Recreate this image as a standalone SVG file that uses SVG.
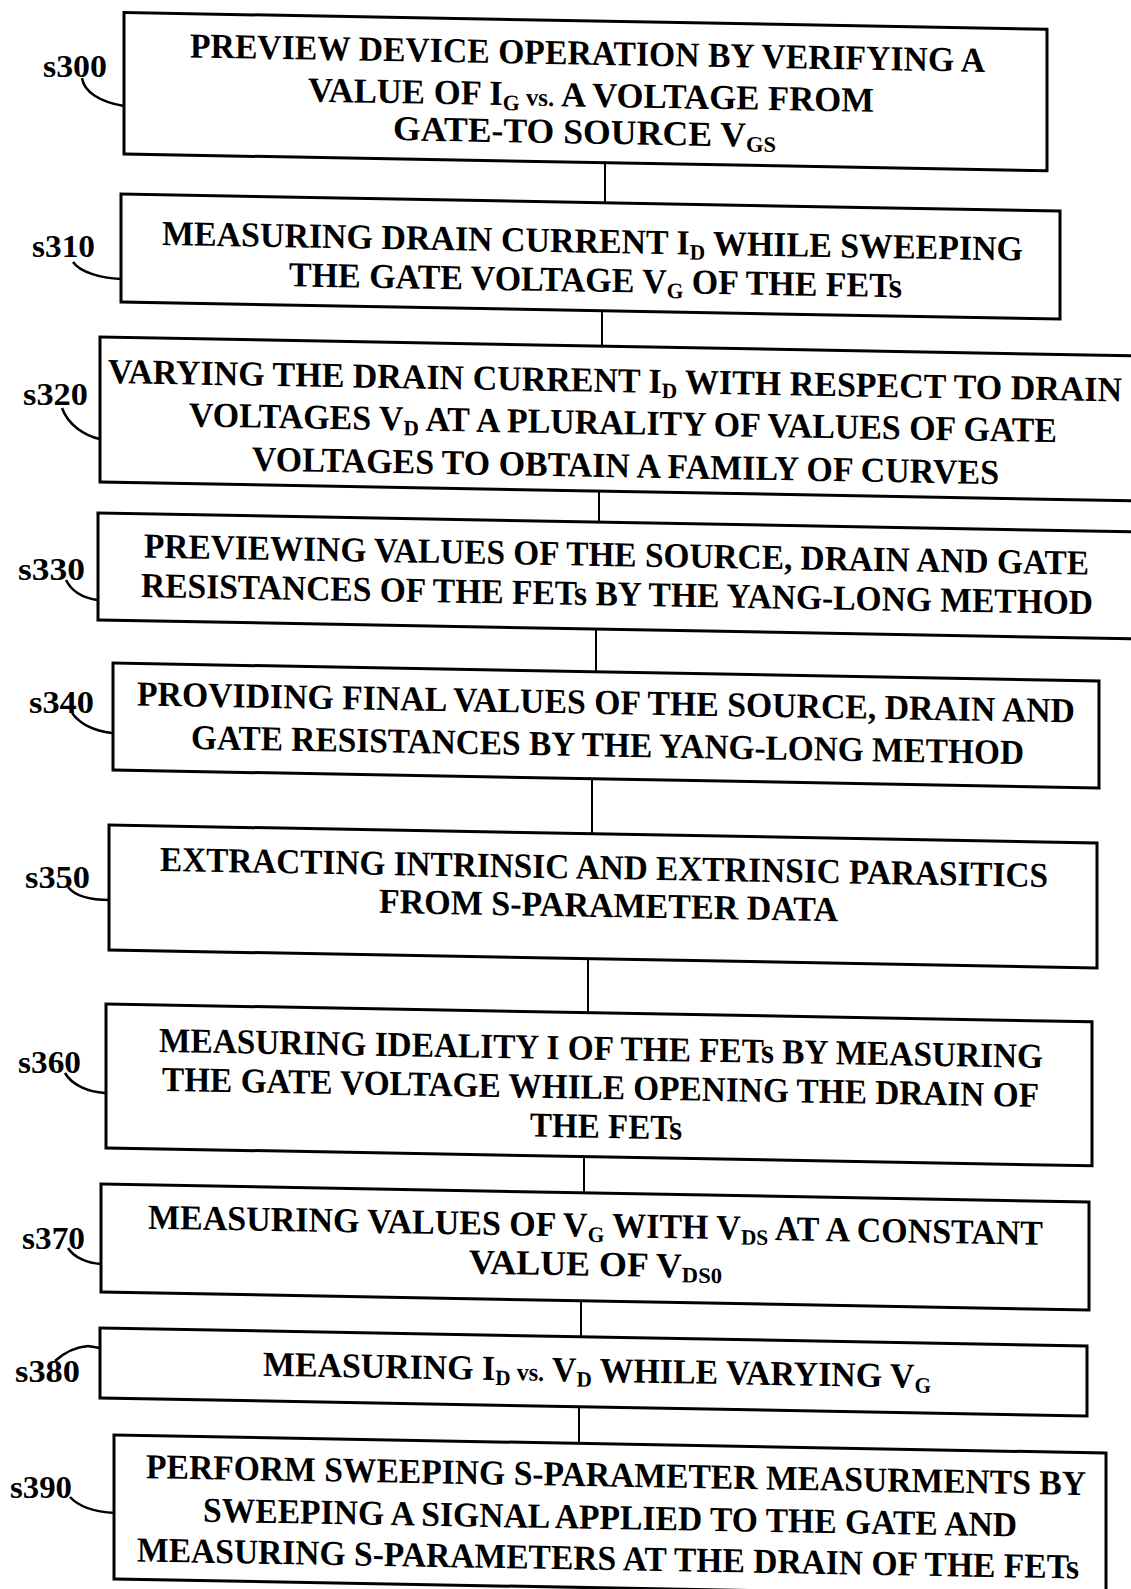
<svg xmlns="http://www.w3.org/2000/svg" width="1131" height="1589" viewBox="0 0 1131 1589">
<style>
.box{fill:none;stroke:#000;stroke-width:3}
.t{font-family:"Liberation Serif","Times New Roman",serif;font-weight:bold;font-size:35px;fill:#000}
.sub{font-size:22px}
.vs{font-size:25px}
.lbl{font-family:"Liberation Serif","Times New Roman",serif;font-weight:bold;font-size:31px;fill:#000}
.hook{fill:none;stroke:#000;stroke-width:2.5}
.conn{stroke:#000;stroke-width:2;fill:none}
</style>
<rect x="0" y="0" width="1131" height="1589" fill="#fff"/>
<g id="connectors">
<line class="conn" x1="605" y1="163" x2="605" y2="203"/>
<line class="conn" x1="602" y1="310" x2="602" y2="346"/>
<line class="conn" x1="599" y1="491" x2="599" y2="522"/>
<line class="conn" x1="596" y1="629" x2="596" y2="672"/>
<line class="conn" x1="592" y1="779" x2="592" y2="834"/>
<line class="conn" x1="588" y1="959" x2="588" y2="1013"/>
<line class="conn" x1="584" y1="1157" x2="584" y2="1193"/>
<line class="conn" x1="581" y1="1301" x2="581" y2="1337"/>
<line class="conn" x1="579" y1="1407" x2="579" y2="1443"/>
</g>
<g id="s300">
<text class="lbl" x="43" y="77" textLength="64" lengthAdjust="spacingAndGlyphs">s300</text>
<path class="hook" d="M82,78 C84,92 100,102 124,106"/>
<g transform="skewY(1.04)">
<rect class="box" x="124" y="10.25" width="923" height="141.5"/>
<text class="t" x="190" y="54" textLength="795" lengthAdjust="spacingAndGlyphs">PREVIEW DEVICE OPERATION BY VERIFYING A</text>
<text class="t" x="308" y="96" textLength="566" lengthAdjust="spacingAndGlyphs">VALUE OF I<tspan class="sub" dy="5">G</tspan><tspan class="vs" dy="-5"> vs.</tspan> A VOLTAGE FROM</text>
<text class="t" x="393" y="133" textLength="383" lengthAdjust="spacingAndGlyphs">GATE-TO SOURCE  V<tspan class="sub" dy="5">GS</tspan></text>
</g>
</g>
<g id="s310">
<text class="lbl" x="32" y="257" textLength="63" lengthAdjust="spacingAndGlyphs">s310</text>
<path class="hook" d="M73,262 C80,272 100,278 121,279"/>
<g transform="skewY(1.04)">
<rect class="box" x="121" y="191.8" width="939" height="108"/>
<text class="t" x="162" y="242" textLength="861" lengthAdjust="spacingAndGlyphs">MEASURING  DRAIN CURRENT  I<tspan class="sub" dy="5">D</tspan><tspan dy="-5"> WHILE SWEEPING</tspan></text>
<text class="t" x="289" y="281" textLength="613" lengthAdjust="spacingAndGlyphs">THE GATE VOLTAGE V<tspan class="sub" dy="5">G</tspan><tspan dy="-5"> OF THE FETs</tspan></text>
</g>
</g>
<g id="s320">
<text class="lbl" x="23" y="405" textLength="65" lengthAdjust="spacingAndGlyphs">s320</text>
<path class="hook" d="M62,408 C68,425 85,436 100,439"/>
<g transform="skewY(1.04)">
<rect class="box" x="100" y="335.2" width="1040" height="145"/>
<text class="t" x="108" y="381" textLength="1014" lengthAdjust="spacingAndGlyphs">VARYING THE DRAIN CURRENT I<tspan class="sub" dy="5">D</tspan><tspan dy="-5"> WITH RESPECT TO DRAIN</tspan></text>
<text class="t" x="189" y="423" textLength="868" lengthAdjust="spacingAndGlyphs">VOLTAGES V<tspan class="sub" dy="5">D</tspan><tspan dy="-5"> AT A PLURALITY OF VALUES OF GATE</tspan></text>
<text class="t" x="252" y="466" textLength="747" lengthAdjust="spacingAndGlyphs">VOLTAGES TO OBTAIN A FAMILY OF CURVES</text>
</g>
</g>
<g id="s330">
<text class="lbl" x="18" y="580" textLength="67" lengthAdjust="spacingAndGlyphs">s330</text>
<path class="hook" d="M66,580 C72,592 84,598 97,600"/>
<g transform="skewY(1.04)">
<rect class="box" x="98" y="511.2" width="1040" height="107"/>
<text class="t" x="144" y="555" textLength="945" lengthAdjust="spacingAndGlyphs">PREVIEWING VALUES OF THE SOURCE, DRAIN AND GATE</text>
<text class="t" x="141" y="594.4" textLength="952" lengthAdjust="spacingAndGlyphs">RESISTANCES OF THE FETs BY THE YANG-LONG METHOD</text>
</g>
</g>
<g id="s340">
<text class="lbl" x="29" y="713" textLength="65" lengthAdjust="spacingAndGlyphs">s340</text>
<path class="hook" d="M72,713 C80,724 95,731 112,733"/>
<g transform="skewY(1.04)">
<rect class="box" x="113" y="661" width="986" height="107"/>
<text class="t" x="137" y="703" textLength="938" lengthAdjust="spacingAndGlyphs">PROVIDING  FINAL VALUES OF THE SOURCE, DRAIN AND</text>
<text class="t" x="191" y="745.5" textLength="833" lengthAdjust="spacingAndGlyphs">GATE RESISTANCES BY THE YANG-LONG METHOD</text>
</g>
</g>
<g id="s350">
<text class="lbl" x="25" y="888" textLength="65" lengthAdjust="spacingAndGlyphs">s350</text>
<path class="hook" d="M68,887 C75,896 90,900 110,900"/>
<g transform="skewY(1.04)">
<rect class="box" x="109" y="823" width="988" height="125"/>
<text class="t" x="160" y="868" textLength="888" lengthAdjust="spacingAndGlyphs">EXTRACTING INTRINSIC AND EXTRINSIC PARASITICS</text>
<text class="t" x="379" y="906" textLength="459" lengthAdjust="spacingAndGlyphs">FROM  S-PARAMETER DATA</text>
</g>
</g>
<g id="s360">
<text class="lbl" x="18" y="1073" textLength="63" lengthAdjust="spacingAndGlyphs">s360</text>
<path class="hook" d="M65,1073 C72,1085 88,1092 105,1093"/>
<g transform="skewY(1.04)">
<rect class="box" x="106" y="1002" width="986" height="144"/>
<text class="t" x="159" y="1049" textLength="884" lengthAdjust="spacingAndGlyphs">MEASURING IDEALITY I OF THE FETs BY MEASURING</text>
<text class="t" x="162" y="1088" textLength="877" lengthAdjust="spacingAndGlyphs">THE GATE VOLTAGE WHILE OPENING THE DRAIN OF</text>
<text class="t" x="530" y="1127" textLength="152" lengthAdjust="spacingAndGlyphs">THE FETs</text>
</g>
</g>
<g id="s370">
<text class="lbl" x="22" y="1249" textLength="63" lengthAdjust="spacingAndGlyphs">s370</text>
<path class="hook" d="M68,1248 C74,1258 88,1263 101,1264"/>
<g transform="skewY(1.04)">
<rect class="box" x="101" y="1182.2" width="988" height="108"/>
<text class="t" x="148" y="1226" textLength="895" lengthAdjust="spacingAndGlyphs">MEASURING VALUES OF V<tspan class="sub" dy="5">G</tspan><tspan dy="-5"> WITH  V</tspan><tspan class="sub" dy="5">DS</tspan><tspan dy="-5"> AT A CONSTANT</tspan></text>
<text class="t" x="469" y="1265" textLength="253" lengthAdjust="spacingAndGlyphs">VALUE OF V<tspan class="sub" dy="5">DS0</tspan></text>
</g>
</g>
<g id="s380">
<text class="lbl" x="15" y="1382" textLength="65" lengthAdjust="spacingAndGlyphs">s380</text>
<path class="hook" d="M55,1361 C65,1352 75,1347 88,1346 L100,1348"/>
<g transform="skewY(1.04)">
<rect class="box" x="100" y="1326.2" width="987" height="70"/>
<text class="t" x="263" y="1371" textLength="668" lengthAdjust="spacingAndGlyphs">MEASURING I<tspan class="sub" dy="5">D</tspan><tspan class="vs" dy="-5"> vs.</tspan> V<tspan class="sub" dy="5">D</tspan><tspan dy="-5"> WHILE VARYING V</tspan><tspan class="sub" dy="5">G</tspan></text>
</g>
</g>
<g id="s390">
<text class="lbl" x="10" y="1498" textLength="62" lengthAdjust="spacingAndGlyphs">s390</text>
<path class="hook" d="M70,1497 C80,1508 95,1512 115,1513"/>
<g transform="skewY(1.04)">
<rect class="box" x="114" y="1432.9" width="992" height="144"/>
<text class="t" x="146" y="1475.5" textLength="940" lengthAdjust="spacingAndGlyphs">PERFORM SWEEPING S-PARAMETER MEASURMENTS BY</text>
<text class="t" x="203" y="1518" textLength="814" lengthAdjust="spacingAndGlyphs">SWEEPING A SIGNAL APPLIED TO THE GATE AND</text>
<text class="t" x="137" y="1559" textLength="942" lengthAdjust="spacingAndGlyphs">MEASURING S-PARAMETERS AT THE DRAIN OF THE FETs</text>
</g>
</g>
</svg>
